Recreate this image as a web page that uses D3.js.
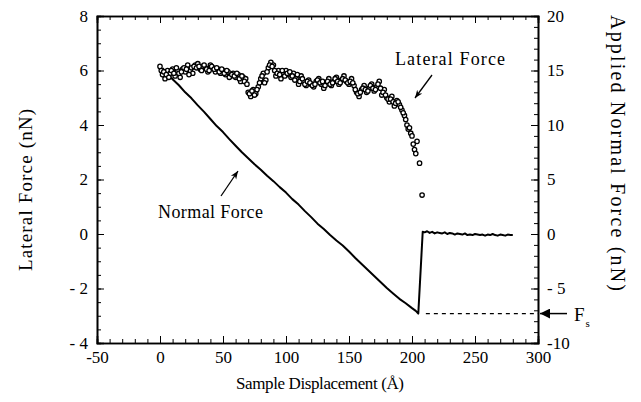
<!DOCTYPE html>
<html>
<head>
<meta charset="utf-8">
<style>
  body { margin: 0; background: #fff; }
  svg text { font-family: "Liberation Serif", "DejaVu Serif", serif; fill: #000; }
  .axis path, .axis line { stroke: #000; }
</style>
</head>
<body>
<svg class="chart"></svg>
<script src="https://d3js.org/d3.v7.min.js"></script>
<script>
// lateral force scatter (left axis, nN)
const lateralX = [0,2,4,6,8,10,12,14,16,18,20,22,24,26,28,30,32,34,36,38,40,42,44,46,48,50,
  52,54,56,58,60,62,64,66,68,70,72,74,76,78,80,82,84,86,88,90,92,94,96,98,100,
  102,104,106,108,110,112,114,116,118,120,122,124,126,128,130,132,134,136,138,140,
  142,144,146,148,150,152,154,156,158,160,162,164,166,168,170,172,174,176,178,180,
  182,184,186,188,190,192,194,196,197,198,199,200,201,202,203,204,206,208,
  1,3,5,7,9,11,13,15,17,19,21,23,25,27,29,31,33,35,37,39,41,43,45,47,49,51,53,55,57,59,
  61,63,65,67,69,71,73,75,77,79,81,83,85,87,89,91,93,95,97,99,101,103,105,107,109,111,
  113,115,117,119,121,123,125,127,129,131,133,135,137,139,141,143,145,147,149,151,153,
  155,157,159,161,163,165,167,169,171,173,175,177,179,181,183,185,187,189,191,193,195];
const lateralY = [6.15,5.85,5.7,6.0,5.9,6.05,5.8,6.0,5.75,6.05,5.95,6.2,6.0,5.9,6.2,6.25,6.05,6.15,6.1,5.95,
  6.2,6.1,5.95,6.05,5.9,6.0,5.85,5.95,5.8,5.9,5.75,5.85,5.6,5.75,5.7,5.2,5.05,5.3,5.15,5.4,
  5.7,5.9,5.65,6.1,6.3,6.2,5.8,6.0,5.7,5.9,6.0,5.85,5.75,5.9,5.7,5.5,5.8,5.6,5.45,5.65,
  5.5,5.4,5.6,5.7,5.5,5.35,5.55,5.7,5.45,5.6,5.75,5.5,5.65,5.8,5.6,5.5,5.7,5.45,5.2,5.05,
  5.3,5.45,5.2,5.35,5.5,5.25,5.4,5.6,5.1,5.3,5.0,4.85,5.05,4.7,4.9,4.75,4.55,4.35,4.0,3.85,
  3.9,3.7,3.6,3.3,3.1,2.95,3.4,2.6,1.43,
  6.0,5.95,5.85,5.75,6.0,5.9,6.1,5.9,5.95,6.1,6.05,5.85,6.1,6.15,6.1,6.15,6.0,6.2,6.05,6.0,
  6.15,6.05,6.1,5.95,6.05,5.9,6.0,5.75,5.85,5.8,5.9,5.7,5.8,5.6,5.5,5.15,5.25,5.1,5.3,5.55,
  5.8,5.55,5.95,6.2,6.15,6.0,5.9,5.85,6.0,5.8,5.9,5.95,5.8,5.65,5.85,5.6,5.7,5.5,5.6,5.55,
  5.45,5.5,5.65,5.55,5.6,5.45,5.6,5.5,5.55,5.7,5.6,5.55,5.7,5.65,5.55,5.6,5.55,5.3,5.15,5.2,
  5.35,5.3,5.25,5.45,5.35,5.3,5.5,5.35,5.2,5.1,4.95,4.95,4.85,4.8,4.85,4.65,4.45,4.2];

// normal force line (right axis, nN)
const normalX = [2,5,10,15,20,25,30,35,40,45,50,55,60,65,70,75,80,85,90,95,100,105,110,115,120,
  125,130,135,140,145,150,155,160,165,170,175,180,185,190,195,200,203,205,208.5,
  210,212,214,216,218,220,222,224,226,228,230,232,234,236,238,240,242,244,246,248,250,
  252,254,256,258,260,262,264,266,268,270,272,274,276,278,280];
const normalY = [15.2,14.85,14.2,13.65,13.0,12.45,11.8,11.2,10.55,9.9,9.35,8.7,8.1,7.5,6.95,6.4,5.9,5.35,
  4.85,4.3,3.8,3.2,2.7,2.1,1.55,0.95,0.45,-0.1,-0.6,-1.05,-1.6,-2.2,-2.75,-3.3,-3.85,-4.4,-4.95,
  -5.45,-5.95,-6.35,-6.8,-7.05,-7.3,0.2,
  0.15,0.25,0.1,0.2,0.05,0.15,0.1,0.05,0.15,0.0,0.1,0.05,-0.05,0.05,0.0,-0.05,0.05,-0.1,-0.05,-0.1,
  0.0,-0.05,-0.1,-0.05,-0.15,-0.05,-0.1,0.0,-0.1,-0.15,-0.05,-0.1,-0.15,-0.05,-0.1,-0.1];

const fsValue = -7.3;

const width = 641, height = 402;
const svg = d3.select(".chart").attr("width", width).attr("height", height);

const x = d3.scaleLinear().domain([-50, 300]).range([97, 538]);
const yL = d3.scaleLinear().domain([-4, 8]).range([343, 16]);
const yR = d3.scaleLinear().domain([-10, 20]).range([343, 16]);

const fmt = d => (d < 0 && d > -10) ? "- " + Math.abs(d) : String(d);

// minor ticks
svg.append("g").attr("class", "axis").attr("transform", "translate(0,343)")
  .call(d3.axisBottom(x).tickValues(d3.range(-50, 301, 10)).tickSize(-4).tickFormat(""));
svg.append("g").attr("class", "axis").attr("transform", "translate(0,16)")
  .call(d3.axisTop(x).tickValues(d3.range(-50, 301, 10)).tickSize(-4).tickFormat(""));
svg.append("g").attr("class", "axis").attr("transform", "translate(97,0)")
  .call(d3.axisLeft(yL).tickValues(d3.range(-4, 8.01, 0.5)).tickSize(-4).tickFormat(""));
svg.append("g").attr("class", "axis").attr("transform", "translate(538,0)")
  .call(d3.axisRight(yR).tickValues(d3.range(-10, 21, 1)).tickSize(-4).tickFormat(""));

// major ticks + labels
svg.append("g").attr("class", "axis").attr("transform", "translate(0,343)")
  .call(d3.axisBottom(x).tickValues(d3.range(-50, 301, 50)).tickSize(-7).tickPadding(8).tickFormat(fmt));
svg.append("g").attr("class", "axis").attr("transform", "translate(0,16)")
  .call(d3.axisTop(x).tickValues(d3.range(-50, 301, 50)).tickSize(-7).tickFormat(""));
svg.append("g").attr("class", "axis").attr("transform", "translate(97,0)")
  .call(d3.axisLeft(yL).tickValues(d3.range(-4, 9, 2)).tickSize(-7).tickPadding(9).tickFormat(fmt));
svg.append("g").attr("class", "axis").attr("transform", "translate(538,0)")
  .call(d3.axisRight(yR).tickValues(d3.range(-10, 21, 5)).tickSize(-7).tickPadding(9).tickFormat(fmt));

svg.selectAll(".axis path").attr("stroke-width", 1.6);
svg.selectAll(".axis text").style("font-size", "17px").style("font-family", "Liberation Serif, serif");

// axis titles
svg.append("text").attr("transform", "translate(32,190) rotate(-90)")
  .attr("text-anchor", "middle").style("font-size", "19px")
  .attr("textLength", 162).attr("lengthAdjust", "spacing").text("Lateral Force (nN)");
svg.append("text").attr("transform", "translate(611,153) rotate(90)")
  .attr("text-anchor", "middle").style("font-size", "20px")
  .attr("textLength", 276).attr("lengthAdjust", "spacing").text("Applied Normal Force (nN)");
svg.append("text").attr("x", 320).attr("y", 389)
  .attr("text-anchor", "middle").style("font-size", "17px")
  .attr("textLength", 168).attr("lengthAdjust", "spacing").text("Sample Displacement (Å)");

// normal force line
const line = d3.line().x((d, i) => x(normalX[i])).y(d => yR(d));
svg.append("path").datum(normalY).attr("d", line)
  .attr("fill", "none").attr("stroke", "#000").attr("stroke-width", 2).attr("stroke-linejoin", "round");

// lateral force markers
svg.selectAll(".lat").data(lateralY).join("circle")
  .attr("class", "lat")
  .attr("cx", (d, i) => x(lateralX[i])).attr("cy", d => yL(d)).attr("r", 2.2)
  .attr("fill", "#fff").attr("stroke", "#000").attr("stroke-width", 1.3);

// Fs dashed line and arrow
svg.append("line").attr("x1", x(211)).attr("x2", x(300))
  .attr("y1", yR(fsValue)).attr("y2", yR(fsValue))
  .attr("stroke", "#000").attr("stroke-width", 1.2).attr("stroke-dasharray", "4,4");

const defs = svg.append("defs");
defs.append("marker").attr("id", "head").attr("viewBox", "0 0 10 10")
  .attr("refX", 10).attr("refY", 5).attr("markerWidth", 8).attr("markerHeight", 8)
  .attr("orient", "auto").attr("markerUnits", "userSpaceOnUse")
  .append("path").attr("d", "M0,1 L10,5 L0,9 L3,5 Z").attr("fill", "#000");
defs.append("marker").attr("id", "bighead").attr("viewBox", "0 0 10 10")
  .attr("refX", 10).attr("refY", 5).attr("markerWidth", 14).attr("markerHeight", 10)
  .attr("orient", "auto").attr("markerUnits", "userSpaceOnUse")
  .append("path").attr("d", "M0,0 L10,5 L0,10 Z").attr("fill", "#000");

svg.append("line").attr("x1", 567).attr("x2", 540)
  .attr("y1", yR(fsValue)).attr("y2", yR(fsValue))
  .attr("stroke", "#000").attr("stroke-width", 1.5).attr("marker-end", "url(#bighead)");
const fs = svg.append("text").attr("x", 574).attr("y", yR(fsValue) + 7).style("font-size", "19px");
fs.append("tspan").text("F");
fs.append("tspan").attr("dy", 6).attr("dx", 1).style("font-size", "11px").text("s");

// annotations
svg.append("text").attr("x", 395).attr("y", 65).style("font-size", "18px")
  .attr("textLength", 110).attr("lengthAdjust", "spacing").text("Lateral Force");
svg.append("line").attr("x1", 432).attr("y1", 75).attr("x2", 415).attr("y2", 98)
  .attr("stroke", "#000").attr("stroke-width", 1.3).attr("marker-end", "url(#head)");

svg.append("text").attr("x", 158).attr("y", 218).style("font-size", "18px")
  .attr("textLength", 105).attr("lengthAdjust", "spacing").text("Normal Force");
svg.append("line").attr("x1", 221).attr("y1", 196).attr("x2", 238).attr("y2", 171)
  .attr("stroke", "#000").attr("stroke-width", 1.3).attr("marker-end", "url(#head)");
</script>
</body>
</html>
